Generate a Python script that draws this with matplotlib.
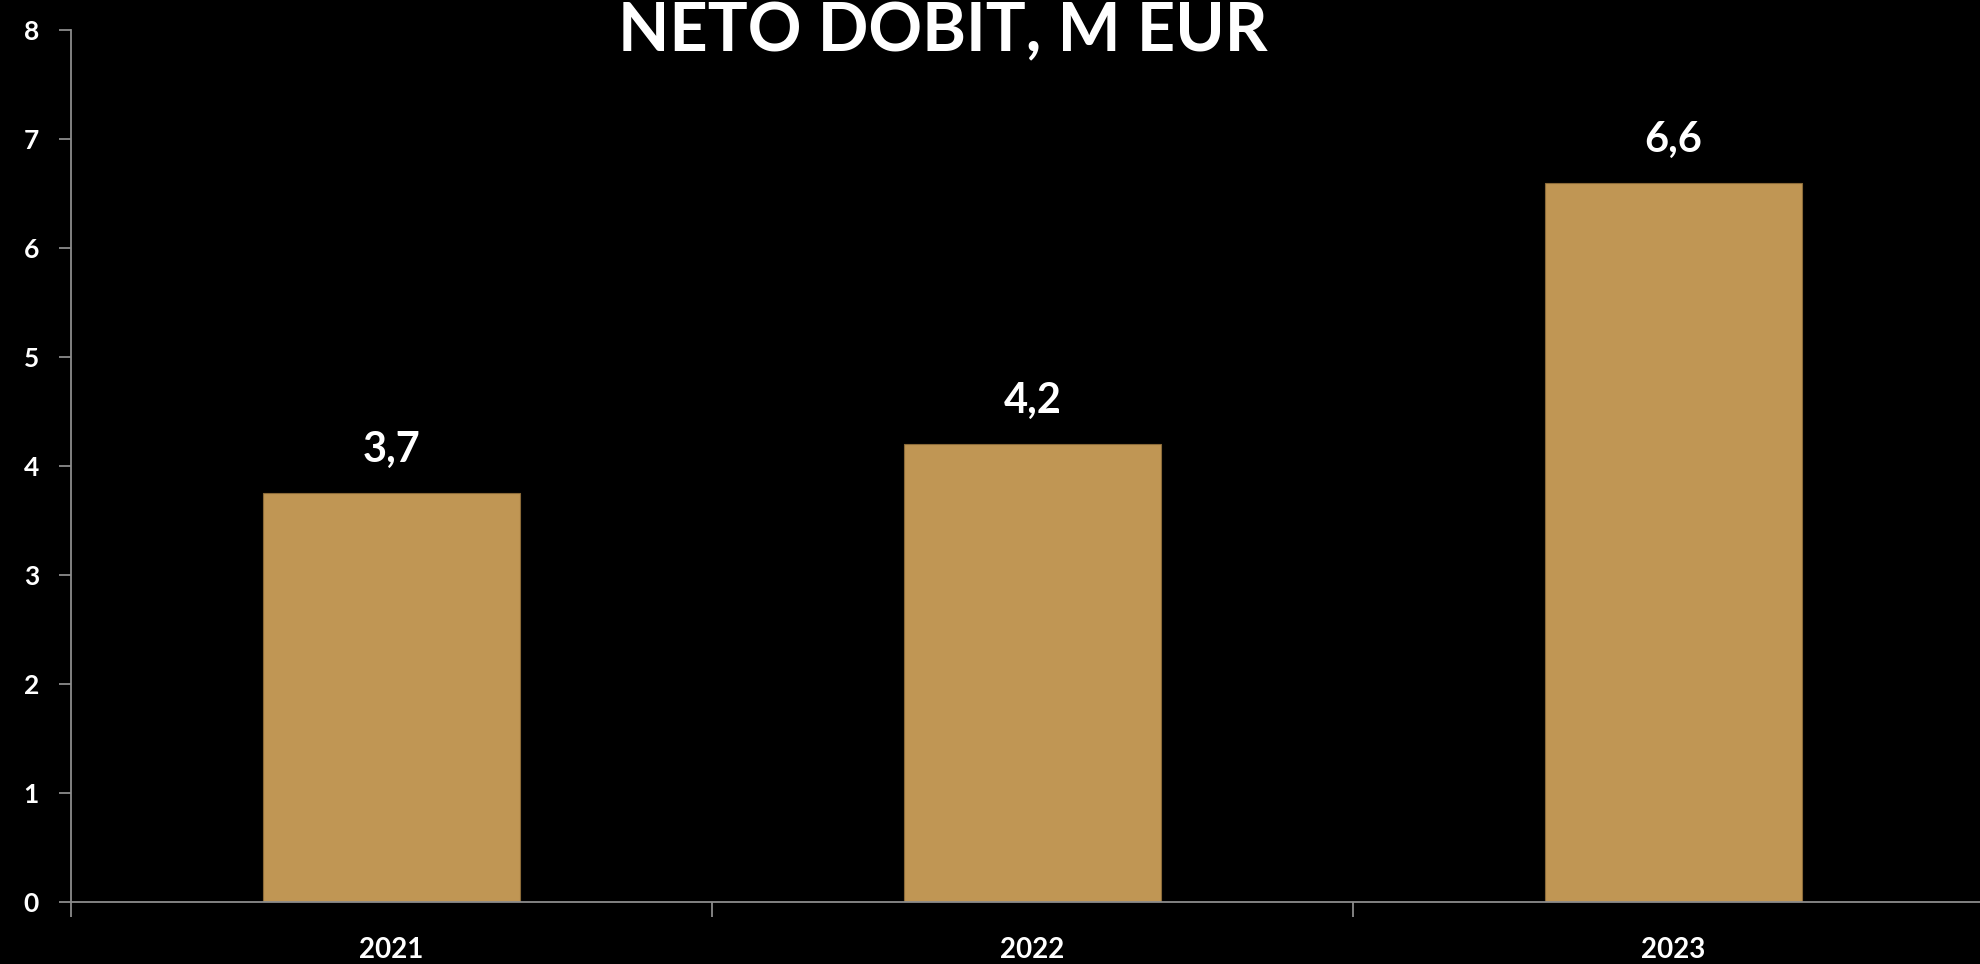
import matplotlib.pyplot as plt

years = ["2021", "2022", "2023"]
values = [3.75, 4.2, 6.6]
labels = ["3,7", "4,2", "6,6"]

plt.rcParams['font.family'] = ['Lato', 'DejaVu Sans']

fig = plt.figure(figsize=(19.81, 9.64), dpi=100, facecolor="black")
ax = fig.add_axes([0.0358, 0.0643, 0.9707, 0.9046], facecolor="black")

x = list(range(len(years)))
ax.bar(x, values, width=0.4, color="#C09654", edgecolor="#8a6a38", linewidth=0.8, zorder=2)

# value labels above the bars
for xi, v, lab in zip(x, values, labels):
    ax.text(xi, v + 0.22, lab, ha="center", va="bottom", color="white",
            fontsize=30, fontweight="bold")

ax.set_xlim(-0.5, 2.5)
ax.set_ylim(0, 8)
ax.set_yticks(range(0, 9))
ax.set_xticks(x)
ax.set_xticklabels(years)
ax.set_xticks([-0.5, 0.5, 1.5, 2.5], minor=True)

for s in ["top", "right"]:
    ax.spines[s].set_visible(False)
for s in ["left", "bottom"]:
    ax.spines[s].set_color("#8c8c8c")
    ax.spines[s].set_linewidth(1.3)

ax.tick_params(axis="y", colors="#8c8c8c", length=9, width=1.3, pad=14,
               labelcolor="white", labelsize=19)
ax.tick_params(axis="x", which="major", length=0, pad=25, labelcolor="white", labelsize=20)
ax.tick_params(axis="x", which="minor", length=11, width=1.3, color="#8c8c8c")
for t in ax.get_yticklabels() + ax.get_xticklabels():
    t.set_fontweight("bold")

fig.text(0.476, 1 - 51 / 964, "NETO DOBIT, M EUR", ha="center", va="baseline",
         color="white", fontsize=48, fontweight="bold")

fig.savefig("out.png", dpi=100, facecolor="black")
